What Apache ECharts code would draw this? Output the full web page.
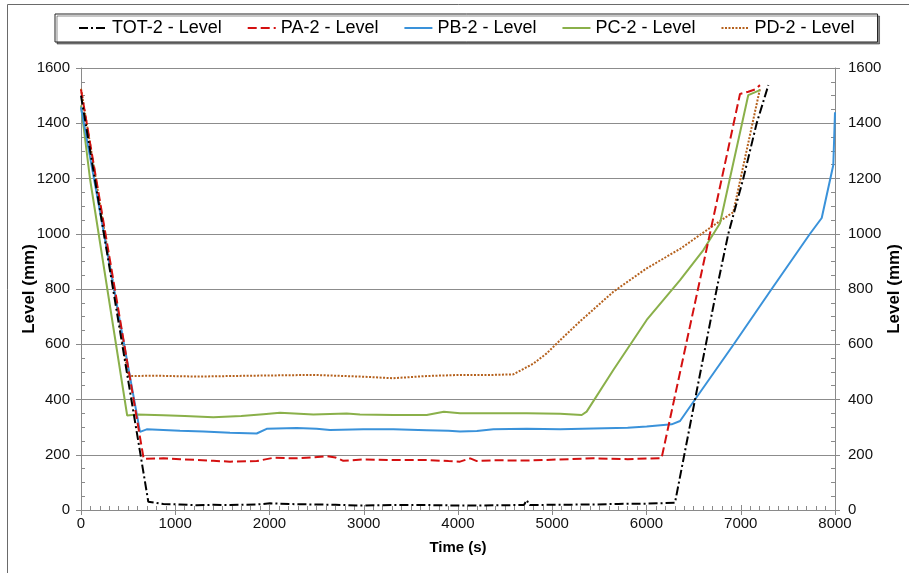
<!DOCTYPE html>
<html>
<head>
<meta charset="utf-8">
<script src="https://cdn.jsdelivr.net/npm/echarts@6/dist/echarts.min.js"></script>
<style>
  html, body { margin: 0; padding: 0; background: #fff; }
  #chart { width: 909px; height: 573px; }
</style>
</head>
<body>
<div id="chart"></div>
<script>
// Tank levels over time, [time (s), level (mm)]
const seriesNames = ['TOT-2 - Level', 'PA-2 - Level', 'PB-2 - Level', 'PC-2 - Level', 'PD-2 - Level'];

const totLevel = [[0,1500],[714,30],[874,22],[1050,20],[1228,17],[1404,19],[1581,18],[1864,20],[2005,24],[2288,21],[2465,20],[2700,19],[2960,16],[3314,18],[3668,18],[4021,16],[4375,17],[4700,18],[4729,36],[4760,18],[5083,19],[5436,20],[5700,22],[6000,23],[6302,26],[6515,400],[6745,800],[6868,1000],[7027,1200],[7169,1400],[7293,1538]];

const paLevel = [[0,1522],[665,185],[874,187],[1050,184],[1228,181],[1404,178],[1581,175],[1864,177],[2040,189],[2288,187],[2450,190],[2606,195],[2700,190],[2783,178],[2996,183],[3314,181],[3668,181],[3900,177],[4021,175],[4130,187],[4200,177],[4375,180],[4729,179],[5083,183],[5436,187],[5800,184],[6160,188],[6992,1506],[7080,1514],[7150,1522],[7204,1538]];

const pbLevel = [[0,1458],[626,283],[697,292],[1050,287],[1300,284],[1581,280],[1864,277],[1970,294],[2288,297],[2500,294],[2642,290],[2996,292],[3314,292],[3668,289],[3900,287],[4021,284],[4200,286],[4375,292],[4729,294],[5083,292],[5436,295],[5800,298],[6002,302],[6179,308],[6267,310],[6356,322],[6515,400],[6926,600],[7328,800],[7735,1000],[7859,1057],[7982,1249],[8000,1440]];

const pcLevel = [[0,1465],[95,1200],[490,342],[591,346],[874,343],[1100,340],[1404,336],[1700,340],[1935,347],[2111,352],[2465,346],[2819,349],[2960,346],[3314,344],[3668,344],[3850,356],[4021,350],[4375,350],[4729,350],[5083,348],[5313,344],[5365,356],[5648,507],[6002,688],[6356,832],[6603,941],[6780,1038],[7080,1502],[7204,1520]];

const pdLevel = [[0,1525],[502,485],[800,486],[1228,483],[1600,485],[2000,487],[2465,489],[2960,483],[3314,477],[3668,485],[4021,489],[4375,489],[4587,491],[4800,530],[4941,567],[5100,620],[5295,683],[5648,790],[6002,875],[6356,945],[6710,1030],[6921,1078],[7204,1525]];

const seriesData = [totLevel, paLevel, pbLevel, pcLevel, pdLevel];
const seriesColors = ['#000000', '#d41010', '#3a92da', '#8ab04a', '#b5611d'];
const seriesDash = [[9, 3, 2, 3], [9, 4], 'solid', 'solid', [2, 1.5]];

const FONT = '"Liberation Sans", Arial, sans-serif';
const AXIS_GREY = '#8a8a8a';

const xRange = { min: 0, max: 8000, interval: 1000 };
const yRange = { min: 0, max: 1600, interval: 200 };

const plainNumber = v => String(v);

function yAxisPair(position, nameGap, labelMargin) {
  return [
    {
      type: 'value', position: position, offset: 0, ...yRange,
      name: 'Level (mm)', nameLocation: 'middle', nameGap: nameGap,
      nameRotate: 90, nameMoveOverlap: false,
      nameTextStyle: { fontFamily: FONT, fontSize: 17, fontWeight: 'bold', color: '#000' },
      axisLine: { show: true, onZero: false, lineStyle: { color: AXIS_GREY, width: 1 } },
      axisTick: { show: true, inside: true, length: 5, lineStyle: { color: AXIS_GREY } },
      minorTick: { show: true, splitNumber: 4, length: 4, lineStyle: { color: AXIS_GREY } },
      axisLabel: { show: true, fontFamily: FONT, fontSize: 15, color: '#111', margin: labelMargin, formatter: plainNumber },
      splitLine: { show: position === 'left', lineStyle: { color: '#8c8c8c', width: 1 } }
    },
    {
      type: 'value', position: position, offset: 0, ...yRange,
      axisLine: { show: false, onZero: false },
      axisTick: { show: true, inside: false, length: 5, lineStyle: { color: AXIS_GREY } },
      axisLabel: { show: false },
      splitLine: { show: false }
    }
  ];
}

const chart = echarts.init(document.getElementById('chart'), null, { renderer: 'canvas' });

chart.setOption({
  animation: false,
  backgroundColor: '#ffffff',
  grid: { left: 81, right: 74, top: 68, bottom: 63, containLabel: false, outerBoundsMode: 'none' },
  legend: {
    data: seriesNames,
    top: 14, left: 55,
    itemWidth: 28, itemHeight: 10, itemGap: 25,
    padding: [5, 23],
    borderColor: '#222', borderWidth: 1,
    backgroundColor: '#fff',
    shadowColor: 'rgba(0,0,0,0.45)', shadowOffsetX: 2, shadowOffsetY: 2, shadowBlur: 0,
    itemStyle: { opacity: 0 },
    textStyle: { fontFamily: FONT, fontSize: 18, color: '#000' }
  },
  xAxis: [
    {
      type: 'value', ...xRange,
      name: 'Time (s)', nameLocation: 'middle', nameGap: 30, nameMoveOverlap: false,
      nameTextStyle: { fontFamily: FONT, fontSize: 15, fontWeight: 'bold', color: '#000' },
      axisLine: { show: true, onZero: false, lineStyle: { color: AXIS_GREY, width: 1 } },
      axisTick: { show: true, inside: true, length: 5, lineStyle: { color: AXIS_GREY } },
      minorTick: { show: true, splitNumber: 10, length: 4, lineStyle: { color: AXIS_GREY } },
      axisLabel: { fontFamily: FONT, fontSize: 15, color: '#111', margin: 6, formatter: plainNumber },
      splitLine: { show: false }
    },
    {
      type: 'value', ...xRange, position: 'bottom', offset: 0,
      axisLine: { show: false, onZero: false },
      axisTick: { show: true, inside: false, length: 5, lineStyle: { color: AXIS_GREY } },
      axisLabel: { show: false },
      splitLine: { show: false }
    }
  ],
  yAxis: [...yAxisPair('left', 43, 11), ...yAxisPair('right', 51, 13)],
  series: seriesData.map((data, i) => ({
    name: seriesNames[i],
    type: 'line',
    data: data,
    xAxisIndex: 0,
    yAxisIndex: 0,
    showSymbol: false,
    symbol: 'none',
    clip: true,
    z: 10 - i,
    lineStyle: { color: seriesColors[i], width: 2, type: seriesDash[i] },
    itemStyle: { color: seriesColors[i] }
  })),
  graphic: [
    {
      type: 'rect', silent: true, z: -1,
      shape: { x: 7.5, y: 4.5, width: 1000, height: 1000 },
      style: { fill: 'none', stroke: '#6a6a6a', lineWidth: 1 }
    }
  ]
});
</script>
</body>
</html>
